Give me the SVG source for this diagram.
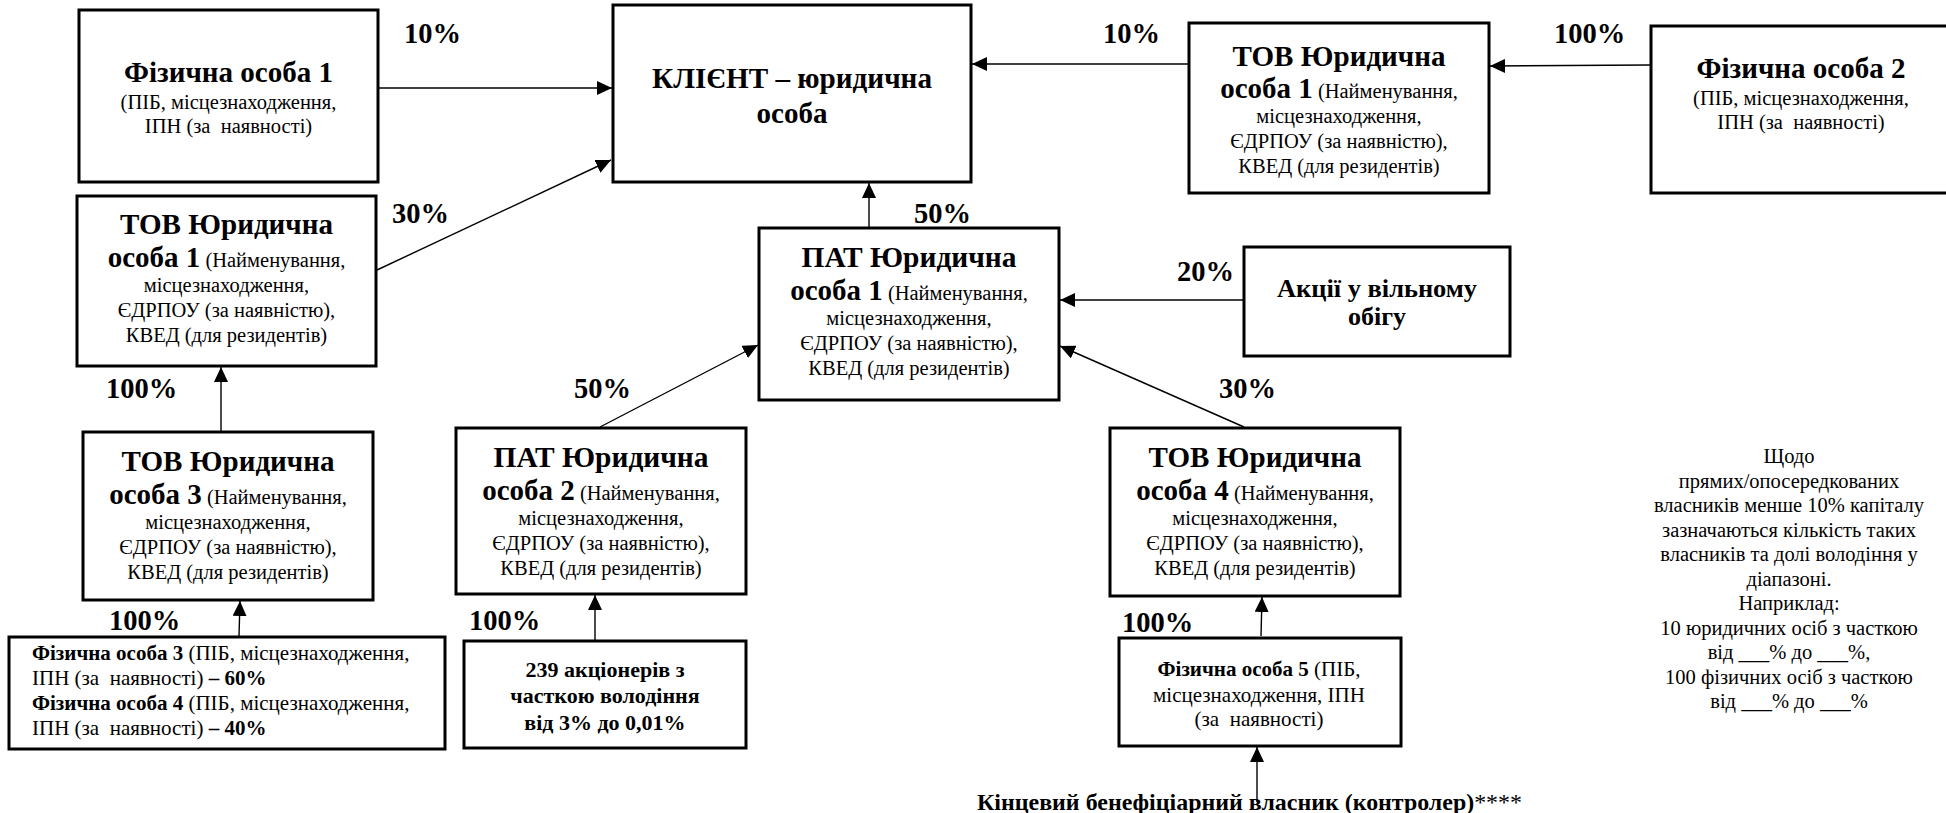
<svg xmlns="http://www.w3.org/2000/svg" width="1946" height="813" viewBox="0 0 1946 813" font-family="Liberation Serif, Times New Roman, DejaVu Serif, serif">
<style>
text{font-family:"Liberation Serif","Times New Roman","DejaVu Serif",serif;fill:#000;white-space:pre}
.t{font-size:29px;font-weight:bold;text-anchor:middle}
.d{font-size:20.5px;font-weight:normal}
.b{font-weight:bold}
.c{text-anchor:middle}
.lbl{font-size:28.5px;font-weight:bold}
.box{fill:#fff;stroke:#000;stroke-width:3}
.con{stroke:#000;stroke-width:1.4;fill:none;marker-end:url(#ah)}
</style>
<defs>
<marker id="ah" markerWidth="15" markerHeight="14" refX="15" refY="7" orient="auto" markerUnits="userSpaceOnUse"><path d="M0,0 L15,7 L0,14 z" fill="#000"/></marker>
<clipPath id="clip34"><rect x="10" y="638" width="434" height="102"/></clipPath>
</defs>
<rect width="1946" height="813" fill="#fff"/>

<g id="connectors">
<line class="con" x1="379" y1="88" x2="612" y2="88"/>
<line class="con" x1="377" y1="270" x2="611" y2="160"/>
<line class="con" x1="1188" y1="64" x2="972" y2="64"/>
<line class="con" x1="1650" y1="65" x2="1490" y2="66"/>
<line class="con" x1="869" y1="227" x2="869" y2="183"/>
<line class="con" x1="1243" y1="300" x2="1060" y2="300"/>
<line class="con" x1="600" y1="427" x2="758" y2="345"/>
<line class="con" x1="1244" y1="427" x2="1060" y2="346"/>
<line class="con" x1="221" y1="431" x2="221" y2="367"/>
<line class="con" x1="239" y1="636" x2="240" y2="601"/>
<line class="con" x1="595" y1="640" x2="595" y2="595"/>
<line class="con" x1="1261" y1="636" x2="1262" y2="597"/>
<line class="con" x1="1257" y1="802" x2="1257" y2="747"/>
</g>

<g id="labels">
<text class="lbl" x="404" y="43">10%</text>
<text class="lbl" x="392" y="223">30%</text>
<text class="lbl" x="106" y="398">100%</text>
<text class="lbl" x="574" y="398">50%</text>
<text class="lbl" x="1103" y="43">10%</text>
<text class="lbl" x="1554" y="43">100%</text>
<text class="lbl" x="914" y="223">50%</text>
<text class="lbl" x="1177" y="281">20%</text>
<text class="lbl" x="1219" y="398">30%</text>
<text class="lbl" x="109" y="630">100%</text>
<text class="lbl" x="469" y="630">100%</text>
<text class="lbl" x="1122" y="632">100%</text>
</g>

<g id="fiz1">
<rect class="box" x="79" y="10" width="299" height="172"/>
<text class="t" x="228.5" y="82" textLength="209" lengthAdjust="spacingAndGlyphs">Фізична особа 1</text>
<text class="d c" x="228.5" y="109">(ПІБ, місцезнаходження,</text>
<text class="d c" x="228.5" y="133">ІПН (за  наявності)</text>
</g>

<g id="client">
<rect class="box" x="613" y="5" width="358" height="177"/>
<text class="t" x="792" y="88" textLength="280" lengthAdjust="spacingAndGlyphs">КЛІЄНТ – юридична</text>
<text class="t" x="792" y="123">особа</text>
</g>

<g id="tov1r">
<rect class="box" x="1189" y="23" width="300" height="170"/>
<text class="t" x="1339" y="66" textLength="213" lengthAdjust="spacingAndGlyphs">ТОВ Юридична</text>
<text class="c" x="1339" y="98"><tspan class="b" font-size="29">особа 1</tspan><tspan class="d"> (Найменування,</tspan></text>
<text class="d c" x="1339" y="123">місцезнаходження,</text>
<text class="d c" x="1339" y="148">ЄДРПОУ (за наявністю),</text>
<text class="d c" x="1339" y="173">КВЕД (для резидентів)</text>
</g>

<g id="fiz2">
<rect class="box" x="1651" y="26" width="300" height="167"/>
<text class="t" x="1801" y="78" textLength="209" lengthAdjust="spacingAndGlyphs">Фізична особа 2</text>
<text class="d c" x="1801" y="105">(ПІБ, місцезнаходження,</text>
<text class="d c" x="1801" y="129">ІПН (за  наявності)</text>
</g>

<g id="tov1l">
<rect class="box" x="77" y="196" width="299" height="170"/>
<text class="t" x="226.5" y="234" textLength="213" lengthAdjust="spacingAndGlyphs">ТОВ Юридична</text>
<text class="c" x="226.5" y="267"><tspan class="b" font-size="29">особа 1</tspan><tspan class="d"> (Найменування,</tspan></text>
<text class="d c" x="226.5" y="292">місцезнаходження,</text>
<text class="d c" x="226.5" y="317">ЄДРПОУ (за наявністю),</text>
<text class="d c" x="226.5" y="342">КВЕД (для резидентів)</text>
</g>

<g id="pat1">
<rect class="box" x="759" y="228" width="300" height="172"/>
<text class="t" x="909" y="267" textLength="215" lengthAdjust="spacingAndGlyphs">ПАТ Юридична</text>
<text class="c" x="909" y="300"><tspan class="b" font-size="29">особа 1</tspan><tspan class="d"> (Найменування,</tspan></text>
<text class="d c" x="909" y="325">місцезнаходження,</text>
<text class="d c" x="909" y="350">ЄДРПОУ (за наявністю),</text>
<text class="d c" x="909" y="375">КВЕД (для резидентів)</text>
</g>

<g id="akcii">
<rect class="box" x="1244" y="247" width="266" height="109"/>
<text class="t" x="1377" y="297" style="font-size:26px" textLength="200" lengthAdjust="spacingAndGlyphs">Акції у вільному</text>
<text class="t" x="1377" y="325" style="font-size:26px">обігу</text>
</g>

<g id="tov3">
<rect class="box" x="83" y="432" width="290" height="168"/>
<text class="t" x="228" y="471" textLength="213" lengthAdjust="spacingAndGlyphs">ТОВ Юридична</text>
<text class="c" x="228" y="504"><tspan class="b" font-size="29">особа 3</tspan><tspan class="d"> (Найменування,</tspan></text>
<text class="d c" x="228" y="529">місцезнаходження,</text>
<text class="d c" x="228" y="554">ЄДРПОУ (за наявністю),</text>
<text class="d c" x="228" y="579">КВЕД (для резидентів)</text>
</g>

<g id="pat2">
<rect class="box" x="456" y="428" width="290" height="166"/>
<text class="t" x="601" y="467" textLength="215" lengthAdjust="spacingAndGlyphs">ПАТ Юридична</text>
<text class="c" x="601" y="500"><tspan class="b" font-size="29">особа 2</tspan><tspan class="d"> (Найменування,</tspan></text>
<text class="d c" x="601" y="525">місцезнаходження,</text>
<text class="d c" x="601" y="550">ЄДРПОУ (за наявністю),</text>
<text class="d c" x="601" y="575">КВЕД (для резидентів)</text>
</g>

<g id="tov4">
<rect class="box" x="1110" y="428" width="290" height="168"/>
<text class="t" x="1255" y="467" textLength="213" lengthAdjust="spacingAndGlyphs">ТОВ Юридична</text>
<text class="c" x="1255" y="500"><tspan class="b" font-size="29">особа 4</tspan><tspan class="d"> (Найменування,</tspan></text>
<text class="d c" x="1255" y="525">місцезнаходження,</text>
<text class="d c" x="1255" y="550">ЄДРПОУ (за наявністю),</text>
<text class="d c" x="1255" y="575">КВЕД (для резидентів)</text>
</g>

<g id="fiz34">
<rect class="box" x="9" y="637" width="436" height="112"/>
<g clip-path="url(#clip34)">
<text class="d" x="32" y="660" style="font-size:21px"><tspan class="b">Фізична особа 3</tspan> (ПІБ, місцезнаходження,</text>
<text class="d" x="32" y="685" style="font-size:21px">ІПН (за  наявності) <tspan class="b">– 60%</tspan></text>
<text class="d" x="32" y="710" style="font-size:21px"><tspan class="b">Фізична особа 4</tspan> (ПІБ, місцезнаходження,</text>
<text class="d" x="32" y="735" style="font-size:21px">ІПН (за  наявності) <tspan class="b">– 40%</tspan></text>
</g>
</g>

<g id="shareholders239">
<rect class="box" x="464" y="641" width="282" height="107"/>
<text class="c b" x="605" y="677" style="font-size:22px">239 акціонерів з</text>
<text class="c b" x="605" y="703" style="font-size:22px">часткою володіння</text>
<text class="c b" x="605" y="730" style="font-size:22px">від 3% до 0,01%</text>
</g>

<g id="fiz5">
<rect class="box" x="1119" y="638" width="282" height="108"/>
<text class="d c" x="1259" y="676" style="font-size:21px"><tspan class="b">Фізична особа 5</tspan> (ПІБ,</text>
<text class="d c" x="1259" y="702" style="font-size:21px">місцезнаходження, ІПН</text>
<text class="d c" x="1259" y="726" style="font-size:21px">(за  наявності)</text>
</g>

<g id="ubo">
<text x="977" y="810" style="font-size:24px" textLength="545" lengthAdjust="spacingAndGlyphs"><tspan class="b">Кінцевий бенефіціарний власник (контролер)</tspan>****</text>
</g>

<g id="note">
<text class="d c" x="1789" y="463">Щодо</text>
<text class="d c" x="1789" y="487.5">прямих/опосередкованих</text>
<text class="d c" x="1789" y="512">власників менше 10% капіталу</text>
<text class="d c" x="1789" y="536.5">зазначаються кількість таких</text>
<text class="d c" x="1789" y="561">власників та долі володіння у</text>
<text class="d c" x="1789" y="585.5">діапазоні.</text>
<text class="d c" x="1789" y="610">Наприклад:</text>
<text class="d c" x="1789" y="634.5">10 юридичних осіб з часткою</text>
<text class="d c" x="1789" y="659">від ___% до ___%,</text>
<text class="d c" x="1789" y="683.5">100 фізичних осіб з часткою</text>
<text class="d c" x="1789" y="708">від ___% до ___%</text>
</g>
</svg>
